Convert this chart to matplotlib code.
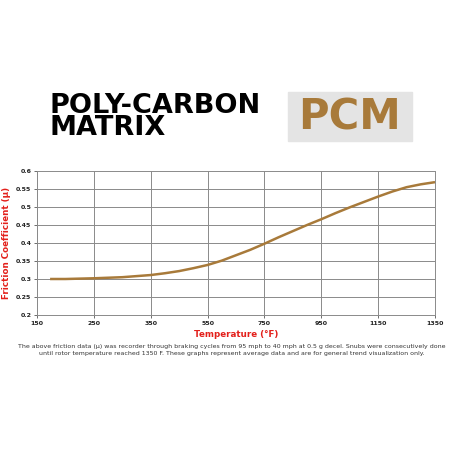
import numpy as np
import matplotlib
matplotlib.use("Agg")
import matplotlib.pyplot as plt
from matplotlib.patches import Rectangle

# tick labels on the x axis (evenly spaced, like a category axis)
x_ticks = [150, 250, 350, 550, 750, 950, 1150, 1350]
y_ticks = [0.2, 0.25, 0.3, 0.35, 0.4, 0.45, 0.5, 0.55, 0.6]

# friction curve
temps = [173, 200, 250, 300, 350, 400, 450, 500, 550, 600, 650, 700, 750,
         800, 850, 900, 950, 1000, 1050, 1100, 1150, 1200, 1250, 1300, 1350]
mu = [0.300, 0.300, 0.302, 0.305, 0.311, 0.316, 0.322, 0.330, 0.339, 0.351,
      0.366, 0.381, 0.398, 0.416, 0.433, 0.450, 0.466, 0.483, 0.499, 0.514,
      0.529, 0.543, 0.555, 0.563, 0.569]

brown = "#a87a3a"
red = "#e3201b"

fig = plt.figure(figsize=(4.5, 4.5), dpi=100)

# header
fig.text(50 / 450, 1 - 117 / 450, "POLY-CARBON\nMATRIX", fontsize=19.5,
         fontweight="heavy", color="black", va="center", ha="left",
         linespacing=0.78)
fig.patches.append(Rectangle((288 / 450, 1 - 141 / 450), 124 / 450, 49 / 450,
                             transform=fig.transFigure, color="#e4e4e4"))
fig.text(349 / 450, 1 - 117 / 450, "PCM", fontsize=30, fontweight="bold",
         color=brown, va="center", ha="center")

ax = fig.add_axes([37 / 450, 1 - 315 / 450, 398 / 450, 144 / 450])
pos = np.arange(len(x_ticks))
xs = np.interp(temps, x_ticks, pos)
ax.plot(xs, mu, color=brown, lw=1.8, solid_capstyle="butt")

ax.set_xlim(0, len(x_ticks) - 1)
ax.set_ylim(0.2, 0.6)
ax.set_xticks(pos)
ax.set_xticklabels([str(t) for t in x_ticks])
ax.set_yticks(y_ticks)
ax.set_yticklabels([f"{v:g}" for v in y_ticks])
ax.grid(True, color="#8a8a8a", lw=0.7)
for s in ax.spines.values():
    s.set_color("#8a8a8a")
    s.set_linewidth(0.7)
ax.spines["top"].set_visible(False)
ax.tick_params(labelsize=4.5, length=2, width=0.6, color="#555555", pad=2)
for lab in ax.get_xticklabels() + ax.get_yticklabels():
    lab.set_fontweight("bold")
    lab.set_color("#222222")

ax.set_xlabel("Temperature (°F)", color=red, fontsize=6.3, fontweight="bold",
              labelpad=3)
ax.set_ylabel("Friction Coefficient (µ)", color=red, fontsize=6.3,
              fontweight="bold", labelpad=4)

fig.text(232 / 450, 1 - 350 / 450,
         "The above friction data (µ) was recorder through braking cycles from 95 mph to 40 mph at 0.5 g decel. Snubs were consecutively done\n"
         "until rotor temperature reached 1350 F. These graphs represent average data and are for general trend visualization only.",
         fontsize=4.5, ha="center", va="center", color="#333333",
         linespacing=1.35)

fig.savefig("out.png", dpi=100)
